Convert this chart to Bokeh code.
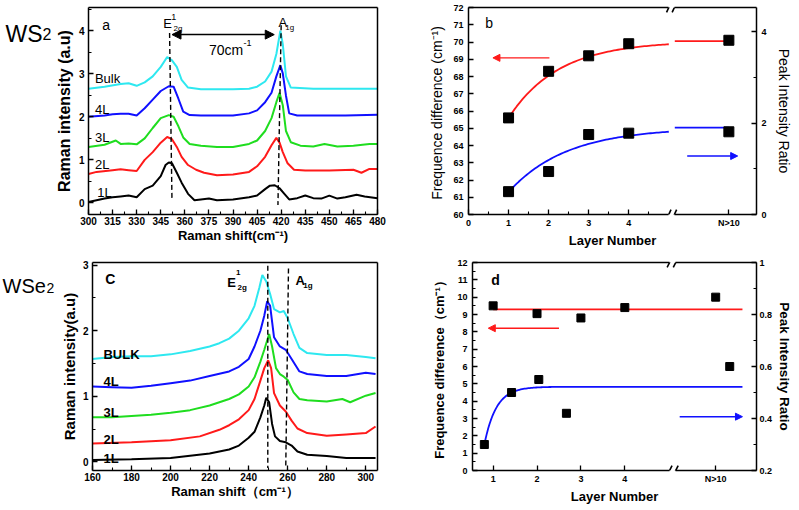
import numpy as np
from bokeh.plotting import figure
from bokeh.models import Range1d, LinearAxis, FixedTicker, Label, Arrow, NormalHead
from bokeh.layouts import row, column
from bokeh.embed import file_html
from bokeh.resources import INLINE
from bokeh.core.properties import value

FONT = "Liberation Sans"

# ---------------- data: WS2 Raman spectra (panel a) ----------------
ws2_x_1L = [300,305,310,315,320,325,330,335,340,345,348,350,352,355,358,362,366,370,375,380,
            390,400,405,410,413,416,419,422,425,430,435,440,445,450,455,460,467,472,480]
ws2_y_1L = [0.02,0.06,0.1,0.13,0.15,0.17,0.13,0.32,0.4,0.62,0.88,0.94,0.92,0.7,0.47,0.21,0.06,0.08,0.1,0.06,
            0.08,0.13,0.17,0.32,0.4,0.41,0.34,0.21,0.08,0.11,0.17,0.11,0.1,0.17,0.1,0.13,0.19,0.15,0.11]
ws2_x_2L = [300,305,315,320,325,330,335,340,345,349,352,355,358,362,367,372,380,390,400,405,
            410,414,417,419,421,424,428,435,450,465,470,475,480]
ws2_y_2L = [0.67,0.72,0.76,0.78,0.76,0.74,1.0,1.18,1.4,1.53,1.48,1.3,1.07,0.88,0.77,0.7,0.64,0.66,0.72,0.85,
            1.07,1.34,1.51,1.4,1.18,0.92,0.77,0.75,0.75,0.77,0.7,0.79,0.79]
ws2_x_3L = [300,310,317,320,325,330,335,340,345,350,353,356,359,363,370,380,390,400,405,410,
            414,417,419,421,423,426,432,440,447,455,465,475,480]
ws2_y_3L = [1.3,1.35,1.45,1.37,1.38,1.36,1.5,1.74,1.97,2.04,2.0,1.78,1.52,1.37,1.33,1.3,1.3,1.37,1.45,1.67,
            1.97,2.34,2.56,2.27,1.67,1.41,1.33,1.31,1.37,1.31,1.33,1.37,1.37]
ws2_x_4L = [300,310,315,320,325,330,335,340,345,350,353,356,359,363,370,380,390,400,405,410,
            414,417,419.5,421,423,425,430,440,460,480]
ws2_y_4L = [2.0,2.03,2.06,2.07,2.07,2.03,2.2,2.4,2.6,2.71,2.7,2.42,2.12,2.04,2.03,2.03,2.03,2.08,2.15,2.34,
            2.56,2.94,3.2,3.01,2.49,2.08,2.03,2.03,2.03,2.05]
ws2_x_bulk = [300,310,320,325,330,335,340,345,349,352,355,358,362,370,380,390,400,405,410,414,
              417,419.5,421,423,426,440,480]
ws2_y_bulk = [2.65,2.7,2.76,2.78,2.72,2.8,2.94,3.16,3.39,3.31,3.16,2.86,2.68,2.64,2.64,2.64,2.65,2.7,2.82,3.05,
              3.46,4.0,3.69,2.94,2.68,2.65,2.65]
ws2_labels = ["1L", "2L", "3L", "4L", "Bulk"]
ws2_label_y = [0.25, 0.9, 1.52, 2.17, 2.89]
ws2_E2g = (350.5, 352.0)   # dashed line top/bottom positions
ws2_A1g = (420.0, 418.0)
ws2_shift = (352.0, 415.7)  # 70 cm-1 arrow

# ---------------- data: WSe2 Raman spectra (panel c) ----------------
wse2_x_1L = [160,180,200,220,230,235,240,243,246,248,249,250.5,252,253.5,256,259,262,265,270,280,290,300,305]
wse2_y_1L = [0.03,0.04,0.06,0.13,0.19,0.25,0.37,0.46,0.68,0.86,0.98,0.91,0.58,0.39,0.32,0.3,0.25,0.16,0.11,0.09,0.06,0.06,0.06]
wse2_x_2L = [160,180,200,215,225,230,235,240,243,246,248,250,251.5,253,256,259,262,265,270,280,290,300,305]
wse2_y_2L = [0.28,0.3,0.33,0.39,0.49,0.56,0.65,0.79,0.96,1.24,1.43,1.55,1.43,1.05,0.86,0.77,0.63,0.51,0.44,0.4,0.42,0.44,0.54]
wse2_x_3L = [160,170,180,190,200,210,220,230,235,240,243,246,248,250.5,252,254,256,258,260,263,266,270,280,288,292,300,305]
wse2_y_3L = [0.68,0.68,0.7,0.72,0.75,0.79,0.86,0.96,1.03,1.15,1.29,1.53,1.71,1.95,1.76,1.43,1.34,1.3,1.25,1.06,0.96,0.94,0.92,0.96,0.91,1.01,1.05]
wse2_x_4L = [160,170,180,190,200,210,220,230,235,240,243,246,248,249.5,251,253,256,259,262,266,270,280,290,300,305]
wse2_y_4L = [1.15,1.14,1.13,1.16,1.2,1.24,1.31,1.38,1.45,1.57,1.76,2.0,2.23,2.45,2.38,1.9,1.76,1.71,1.57,1.38,1.34,1.31,1.31,1.36,1.34]
wse2_x_bulk = [160,170,180,190,200,210,220,225,230,235,240,243,245.5,247,249,251,253,256,258,260,263,266,270,280,290,300,305]
wse2_y_bulk = [1.57,1.6,1.61,1.61,1.64,1.69,1.76,1.81,1.88,2.0,2.19,2.38,2.66,2.85,2.75,2.56,2.33,2.28,2.3,2.19,1.95,1.74,1.66,1.63,1.63,1.6,1.58]
wse2_labels = ["1L", "2L", "3L", "4L", "BULK"]
wse2_label_y = [0.05, 0.35, 0.76, 1.23, 1.64]
wse2_E2g = (249.8, 249.8)
wse2_A1g = (260.4, 259.0)

# ---------------- data: WS2 layer dependence (panel b) ----------------
b_layers = [1, 2, 3, 4, 6.5]
b_freq_diff = [65.6, 68.3, 69.2, 69.9, 70.1]
b_ratio = [0.5, 0.94, 1.75, 1.78, 1.81]
b_freq_fit = dict(top=70.05, amp=4.45, tau=1.25, x0=1.0, x1=5.0)
b_ratio_fit = dict(top=1.9, amp=1.41, tau=1.45, x0=1.0, x1=5.0)
b_tail = (5.15, 6.5)
b_break = 5.07

# ---------------- data: WSe2 layer dependence (panel d) ----------------
d_layers = [1, 2, 3, 4, 6.07]
d_freq_diff = [9.5, 9.05, 8.8, 9.4, 10.0]
d_ratio_x = [0.8, 1.42, 2.04, 2.67, 6.39]
d_ratio = [0.3, 0.5, 0.55, 0.42, 0.6]
d_freq_mean = 9.3
d_freq_span = (1.0, 6.68)
d_ratio_fit = dict(top=0.522, amp=0.222, tau=0.27, x0=0.8, x1=6.68)
d_break = 5.09

COLORS = ["black", "#ff1a1a", "#1fdd1f", "#1010ff", "#2ee8f0"]


def make_fig(w, h, bl, br, bt, bb, xr, yr):
    p = figure(width=w, height=h, x_range=Range1d(*xr), y_range=Range1d(*yr),
               output_backend="svg", toolbar_location=None, tools="",
               min_border_left=bl, min_border_right=br, min_border_top=bt, min_border_bottom=bb,
               x_axis_location=None, y_axis_location=None)
    p.outline_line_color = None
    p.grid.visible = False
    p.background_fill_color = "white"
    p.border_fill_color = "white"
    return p


def name_fig(w, h, parts):
    """A small axis-less figure that only holds the compound name, in pixel units."""
    p = figure(width=w, height=h, x_range=Range1d(0, w), y_range=Range1d(h, 0),
               output_backend="svg", toolbar_location=None, tools="",
               min_border_left=0, min_border_right=0, min_border_top=0, min_border_bottom=0,
               x_axis_location=None, y_axis_location=None)
    p.outline_line_color = None
    p.grid.visible = False
    for x, y, t, s in parts:
        p.text(x=[x], y=[y], text=[t], text_font=value(FONT), text_font_size=value(s),
               text_baseline="alphabetic", text_align="left", text_color="black")
    return p


def style_axis(ax, size, bold=True, title_size="13px", title_bold=True, lab_standoff=4, title_standoff=4):
    ax.axis_line_width = 1.5
    ax.axis_line_color = "black"
    ax.major_tick_in = 5
    ax.major_tick_out = 0
    ax.minor_tick_in = 3
    ax.minor_tick_out = 0
    ax.major_tick_line_width = 1.3
    ax.minor_tick_line_width = 1.1
    ax.major_tick_line_color = "black"
    ax.minor_tick_line_color = "black"
    ax.major_label_text_font = FONT
    ax.major_label_text_font_size = size
    ax.major_label_text_font_style = "bold" if bold else "normal"
    ax.major_label_text_color = "black"
    ax.major_label_standoff = lab_standoff
    ax.axis_label_text_font = FONT
    ax.axis_label_text_font_size = title_size
    ax.axis_label_text_font_style = "bold" if title_bold else "normal"
    ax.axis_label_standoff = title_standoff
    ax.axis_label_text_color = "black"


def add_axis(p, loc, ticks, minor, size, bold=True, title=None, title_size="13px", title_bold=True,
             lab_standoff=4, title_standoff=4, overrides=None, range_name=None, line=True):
    kw = {}
    if range_name:
        kw["y_range_name"] = range_name
    ax = LinearAxis(ticker=FixedTicker(ticks=ticks, minor_ticks=minor), **kw)
    style_axis(ax, size, bold, title_size, title_bold, lab_standoff, title_standoff)
    if not line:
        ax.axis_line_color = None
    if title:
        ax.axis_label = title
    if overrides:
        ax.major_label_overrides = overrides
    p.add_layout(ax, loc)
    return ax


def add_frame_axis(p, loc, bounds="auto", range_name=None):
    kw = {}
    if range_name:
        kw["y_range_name"] = range_name
    ax = LinearAxis(ticker=FixedTicker(ticks=[], minor_ticks=[]), bounds=bounds, **kw)
    ax.axis_line_width = 1.5
    ax.axis_line_color = "black"
    ax.major_tick_in = 0
    ax.major_tick_out = 0
    ax.minor_tick_in = 0
    ax.minor_tick_out = 0
    ax.major_label_standoff = 0
    ax.axis_label_standoff = 0
    p.add_layout(ax, loc)


def txt(p, x, y, text, size, bold=False, align="left", baseline="alphabetic", color="black"):
    lab = Label(x=x, y=y, text=text, text_font=FONT, text_font_size=size,
                text_font_style="bold" if bold else "normal", text_align=align,
                text_baseline=baseline, text_color=color)
    p.add_layout(lab)


def broken_frame(p, xr, yr, brk, gap, dy):
    """Top/bottom frame lines interrupted at the axis break, with // marks."""
    add_frame_axis(p, "above", (xr[0], brk - gap))
    add_frame_axis(p, "above", (brk + gap, xr[1]))
    add_frame_axis(p, "below", (xr[0], brk - gap))
    add_frame_axis(p, "below", (brk + gap, xr[1]))
    for edge in (yr[0], yr[1]):
        for c in (brk - gap, brk + gap):
            p.segment(x0=[c - gap * 0.8], y0=[edge - dy], x1=[c + gap * 0.8], y1=[edge + dy],
                      line_color="black", line_width=1.6)


# ================= panel a =================
lab_a = name_fig(52, 252, [(5, 32, "WS", "23px"), (42, 32, "2", "16px")])
pa = make_fig(344, 252, 36, 19, 5, 38, (300, 480), (-0.27, 4.54))
add_axis(pa, "below", list(range(300, 481, 15)), [300 + 7.5 * i for i in range(25)], "10px",
         title="Raman shift(cm⁻¹)", title_size="13px", lab_standoff=2, title_standoff=0)
add_axis(pa, "left", [0, 1, 2, 3, 4], [0.5, 1.5, 2.5, 3.5, 4.5], "10px",
         title="Raman intensity (a.u)", title_size="16px", lab_standoff=4, title_standoff=3)
add_frame_axis(pa, "above")
add_frame_axis(pa, "right")
for xs, ys, c in zip([ws2_x_1L, ws2_x_2L, ws2_x_3L, ws2_x_4L, ws2_x_bulk],
                     [ws2_y_1L, ws2_y_2L, ws2_y_3L, ws2_y_4L, ws2_y_bulk], COLORS):
    pa.line(xs, ys, line_color=c, line_width=2)
pa.line([ws2_E2g[0], ws2_E2g[1]], [3.95, 0.06], line_color="black", line_width=1.4, line_dash="5 3")
pa.line([ws2_A1g[0], ws2_A1g[1]], [4.13, -0.05], line_color="black", line_width=1.4, line_dash="5 3")
pa.add_layout(Arrow(start=NormalHead(size=9, fill_color="black", line_color="black"),
                    end=NormalHead(size=9, fill_color="black", line_color="black"),
                    x_start=ws2_shift[0], y_start=3.91, x_end=ws2_shift[1], y_end=3.91,
                    line_color="black", line_width=1.5))
txt(pa, 375, 3.56, "70cm", "14px")
txt(pa, 396.5, 3.72, "-1", "9px")
txt(pa, 346.5, 4.16, "E", "13px")
txt(pa, 351.5, 4.33, "1", "9px")
txt(pa, 353, 4.05, "2g", "8px")
txt(pa, 418.3, 4.2, "A", "13px")
txt(pa, 422.5, 4.07, "1g", "8px")
txt(pa, 308.5, 4.14, "a", "14px")
for lab, ly in zip(ws2_labels, ws2_label_y):
    txt(pa, 304 if lab != "1L" else 305.5, ly, lab, "13px")

# ================= panel b =================
B_XR, B_YR = (0, 7.19), (60, 72)
pb = make_fig(399, 252, 72, 39, 7, 38, B_XR, B_YR)
pb.extra_y_ranges = {"right": Range1d(0, 4.53)}
broken_frame(pb, B_XR, B_YR, b_break, 0.07, 0.28)
add_axis(pb, "below", [0, 1, 2, 3, 4, 6.5], [0.5, 1.5, 2.5, 3.5, 4.5], "9px",
         title="Layer Number", title_size="13px", lab_standoff=3, title_standoff=2,
         overrides={6.5: "N>10"}, line=False)
add_axis(pb, "left", list(range(60, 73)), [], "9px",
         title="Frequence difference  (cm⁻¹)", title_size="14px", title_bold=False,
         lab_standoff=5, title_standoff=5)
add_axis(pb, "right", [0, 2, 4], [1, 3], "9px", title="Peak Intensity Ratio", title_size="14px",
         title_bold=False, lab_standoff=5, title_standoff=6, range_name="right")
fx = np.linspace(b_freq_fit["x0"], b_freq_fit["x1"], 80)
pb.line(fx, b_freq_fit["top"] - b_freq_fit["amp"] * np.exp(-(fx - b_freq_fit["x0"]) / b_freq_fit["tau"]),
        line_color="#ff1a1a", line_width=1.8)
pb.line(list(b_tail), [b_freq_fit["top"]] * 2, line_color="#ff1a1a", line_width=1.8)
rx = np.linspace(b_ratio_fit["x0"], b_ratio_fit["x1"], 80)
pb.line(rx, b_ratio_fit["top"] - b_ratio_fit["amp"] * np.exp(-(rx - b_ratio_fit["x0"]) / b_ratio_fit["tau"]),
        line_color="#1010ff", line_width=1.8, y_range_name="right")
pb.line(list(b_tail), [b_ratio_fit["top"]] * 2, line_color="#1010ff", line_width=1.8, y_range_name="right")
pb.scatter(b_layers, b_freq_diff, marker="square", size=10, fill_color="black", line_color="black")
pb.scatter(b_layers, b_ratio, marker="square", size=10, fill_color="black", line_color="black",
           y_range_name="right")
pb.add_layout(Arrow(end=NormalHead(size=7, fill_color="#ff1a1a", line_color="#ff1a1a"),
                    x_start=2.02, y_start=69.08, x_end=0.61, y_end=69.08,
                    line_color="#ff1a1a", line_width=1.3))
pb.add_layout(Arrow(end=NormalHead(size=7, fill_color="#1010ff", line_color="#1010ff"),
                    x_start=5.46, y_start=1.28, x_end=6.72, y_end=1.28, y_range_name="right",
                    line_color="#1010ff", line_width=1.3))
txt(pb, 0.42, 71.1, "b", "14px")

# ================= panel c =================
lab_c = name_fig(57, 256, [(2, 29, "WSe", "20px"), (46, 31, "2", "14px")])
pc = make_fig(339, 256, 31, 19, 6, 38, (160, 306), (-0.13, 3.04))
add_axis(pc, "below", list(range(160, 301, 20)), list(range(170, 306, 10)), "10px",
         title="Raman shift（cm⁻¹）", title_size="13px", lab_standoff=2, title_standoff=0)
add_axis(pc, "left", [0, 1, 2, 3], [0.5, 1.5, 2.5], "10px",
         title="Raman intensity(a.u)", title_size="15px", lab_standoff=4, title_standoff=2)
add_frame_axis(pc, "above")
add_frame_axis(pc, "right")
for xs, ys, c in zip([wse2_x_1L, wse2_x_2L, wse2_x_3L, wse2_x_4L, wse2_x_bulk],
                     [wse2_y_1L, wse2_y_2L, wse2_y_3L, wse2_y_4L, wse2_y_bulk], COLORS):
    pc.line(xs, ys, line_color=c, line_width=2)
pc.line([wse2_E2g[0], wse2_E2g[1]], [2.99, -0.09], line_color="black", line_width=1.4, line_dash="5 3")
pc.line([wse2_A1g[0], wse2_A1g[1]], [2.95, -0.09], line_color="black", line_width=1.4, line_dash="5 3")
txt(pc, 229, 2.74, "E", "13px", bold=True)
txt(pc, 233.5, 2.88, "1", "8px", bold=True)
txt(pc, 234.3, 2.66, "2g", "8px", bold=True)
txt(pc, 264, 2.76, "A", "13px", bold=True)
txt(pc, 268, 2.69, "1g", "8px", bold=True)
txt(pc, 166.5, 2.79, "C", "14px", bold=True)
for lab, ly in zip(wse2_labels, wse2_label_y):
    txt(pc, 165.6, ly, lab, "13px", bold=True)

# ================= panel d =================
D_XR, D_YR = (0.53, 7.0), (0, 12)
pd_ = make_fig(399, 256, 76, 35, 10, 38, D_XR, D_YR)
pd_.extra_y_ranges = {"right": Range1d(0.2, 1.0)}
broken_frame(pd_, D_XR, D_YR, d_break, 0.07, 0.28)
add_axis(pd_, "below", [1, 2, 3, 4, 6.07], [], "9px", title="Layer Number", title_size="13px",
         lab_standoff=3, title_standoff=2, overrides={6.07: "N>10"}, line=False)
add_axis(pd_, "left", list(range(0, 13)), [0.5 + i for i in range(12)], "9px",
         title="Frequence difference（cm⁻¹）", title_size="13px", lab_standoff=5, title_standoff=7)
add_axis(pd_, "right", [0.2, 0.4, 0.6, 0.8, 1.0], [0.3, 0.5, 0.7, 0.9], "9px",
         title="Peak Intensity Ratio", title_size="13.5px", lab_standoff=3, title_standoff=2,
         range_name="right")
pd_.line(list(d_freq_span), [d_freq_mean] * 2, line_color="#ff1a1a", line_width=1.8)
dx = np.linspace(d_ratio_fit["x0"], d_ratio_fit["x1"], 200)
pd_.line(dx, d_ratio_fit["top"] - d_ratio_fit["amp"] * np.exp(-(dx - d_ratio_fit["x0"]) / d_ratio_fit["tau"]),
         line_color="#1010ff", line_width=1.8, y_range_name="right")
pd_.scatter(d_layers, d_freq_diff, marker="square", size=8, fill_color="black", line_color="black")
pd_.scatter(d_ratio_x, d_ratio, marker="square", size=8, fill_color="black", line_color="black",
            y_range_name="right")
pd_.add_layout(Arrow(end=NormalHead(size=7, fill_color="#ff1a1a", line_color="#ff1a1a"),
                     x_start=2.5, y_start=8.21, x_end=0.89, y_end=8.21,
                     line_color="#ff1a1a", line_width=1.5))
pd_.add_layout(Arrow(end=NormalHead(size=7, fill_color="#1010ff", line_color="#1010ff"),
                     x_start=5.25, y_start=0.407, x_end=6.68, y_end=0.407, y_range_name="right",
                     line_color="#1010ff", line_width=1.5))
txt(pd_, 0.96, 11.0, "d", "14px", bold=True)

layout = column(row(lab_a, pa, pb), row(lab_c, pc, pd_))
open("out.html", "w").write(file_html(layout, INLINE))
